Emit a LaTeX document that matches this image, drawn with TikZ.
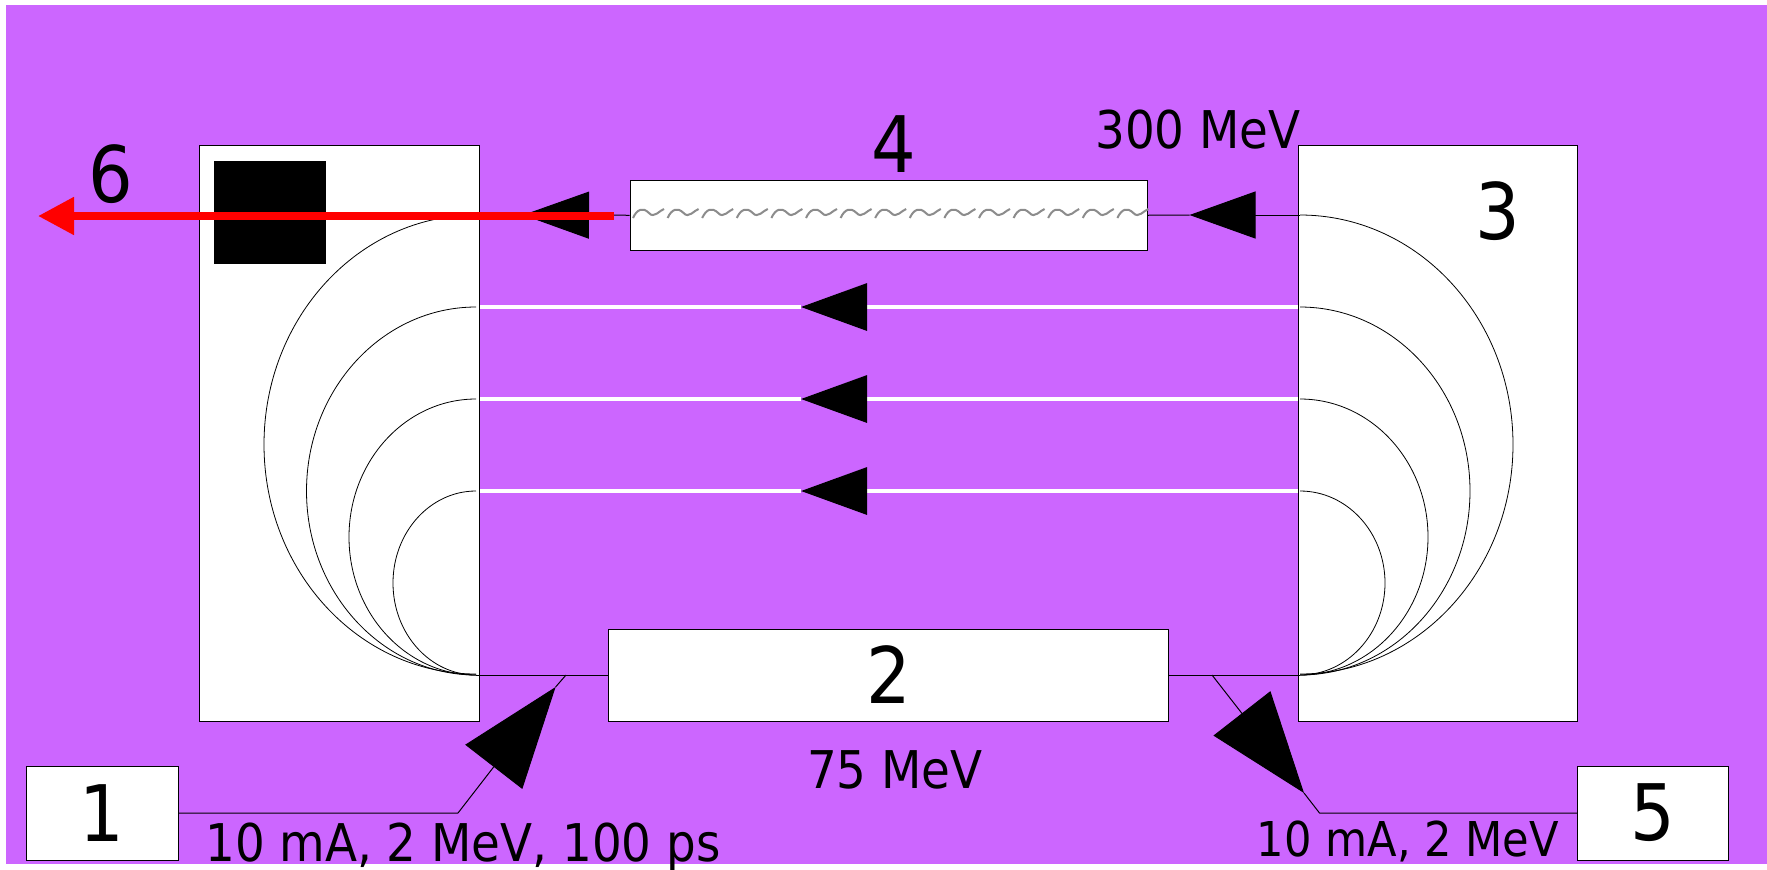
\documentclass[tikz,border=0pt]{standalone}
\usepackage{fontspec}
\setmainfont{DejaVu Sans Condensed}
\usetikzlibrary{arrows.meta, calc}
\definecolor{hallviolet}{HTML}{CC66FF}
\tikzset{
    box/.style={draw, fill=white, line width=.5pt, inner sep=0pt, font=\fontsize{39}{39}\selectfont},
    lab/.style={inner sep=0pt, font=\fontsize{26}{26}\selectfont},
    num/.style={inner sep=0pt, font=\fontsize{39}{39}\selectfont},
    beam/.style={line width=.5pt},
    wbeam/.style={white, line width=1.6pt},
    arcline/.style={line width=.4pt},
    headtip/.style={-{Triangle[color=black, fill=black, length=33pt, width=23.5pt]}},
    bigtip/.style={-{Triangle[color=black, fill=black, length=50.5pt, width=36pt]}}
}

\begin{document}
\begin{tikzpicture}[x=0.5pt,y=-0.5pt]
    \useasboundingbox (0,0) rectangle (1767,869);
    \fill[hallviolet] (5.5,5) rectangle (1767,864);
    % magnets, linac, cavity, sources
    \node[box, minimum width=139.75pt, minimum height=287.75pt] (arcL) at (339.25,433.25) {};
    \node[box, minimum width=139.5pt, minimum height=287.75pt] (arcR) at (1437.75,433.25) {};
    \node[box, minimum width=258.5pt, minimum height=34.75pt] (cav) at (888.5,215.25) {};
    \node[box, minimum width=280pt, minimum height=46pt] (linac) at (888.6,675) {2};
    \node[box, minimum width=76pt, minimum height=47pt] (injA) at (102,813) {1};
    \node[box, minimum width=75.5pt, minimum height=47pt] (injB) at (1653,813) {5};
    \node[fill=black, inner sep=0pt, minimum width=56pt, minimum height=51.5pt] (dump) at (270,212.5) {};
    % recirculation arcs
    \foreach \y/\ry/\rxl/\rxr in {215/229.5/212/213, 307/184/169.5/170, 399/138/127/128, 491/92/83/85}{
        \draw[arcline] (476,\y) arc[start angle=90, end angle=270, x radius=\rxl*.5pt, y radius=\ry*.5pt];
        \draw[arcline] (1300,\y) arc[start angle=90, end angle=-90, x radius=\rxr*.5pt, y radius=\ry*.5pt];
    }
    % passes
    \foreach \y in {307,399,491}{
        \coordinate (r\y) at (arcR.west |- 0,\y);
        \coordinate (l\y) at (arcL.east |- 0,\y);
        \coordinate (t\y) at (801,\y);
        \draw[wbeam] (r\y) edge[headtip] (t\y) (t\y) -- (l\y);
    }
    \coordinate (topR) at (1300,215);
    \coordinate (topL) at (476,215);
    \coordinate (tipR) at (1189.5,215);
    \coordinate (tipL) at (523,215);
    \draw[beam] (topR) edge[headtip] (tipR) (tipR) -- (cav.east);
    \draw[beam] (cav.west) edge[headtip] (tipL) (tipL) -- (topL);
    \draw[beam] (linac.west) -- (476,675) (linac.east) -- (1300,675);
    % wiggler
    \foreach \i in {0,...,14}{
        \draw[gray!90, line width=1pt] ($(633,218)+(\i*34.6,0)$) .. controls +(4,-9) and +(-6,-6) .. ++(16,-5) .. controls +(5,6) and +(-4,1) .. ++(15,-4);
    }
    % injection
    \coordinate (kinkA) at (458,813);
    \coordinate (mergeA) at (566,675);
    \coordinate (tipA) at (555.6,687);
    \coordinate (kinkB) at (1319.5,813);
    \coordinate (mergeB) at (1212,675);
    \coordinate (tipB) at (1304,793);
    \draw[beam] (injA.east) -- (kinkA) edge[bigtip] (tipA) (tipA) -- (mergeA);
    \draw[beam] (injB.west) -- (kinkB) -- (tipB) (mergeB) edge[bigtip] (tipB);
    % extracted beam
    \draw[red, line width=4pt, -{Triangle[length=18pt, width=18pt]}] (614,216) -- (38,216);
    % labels
    \node[num] (n6) at (111,174) {6};
    \node[num] (n4) at (894,144) {4};
    \node[num] (n3) at (1498,211) {3};
    \node[lab] (e300) at (1198,130) {300 MeV};
    \node[lab] (e75) at (895,770) {75 MeV};
    \node[lab, anchor=base] (specA) at (463,861.7) {10 mA, 2 MeV, 100 ps};
    \node[lab, anchor=base, font=\fontsize{24}{24}\selectfont] (specB) at (1408,856.7) {10 mA, 2 MeV};
\end{tikzpicture}
\end{document}
